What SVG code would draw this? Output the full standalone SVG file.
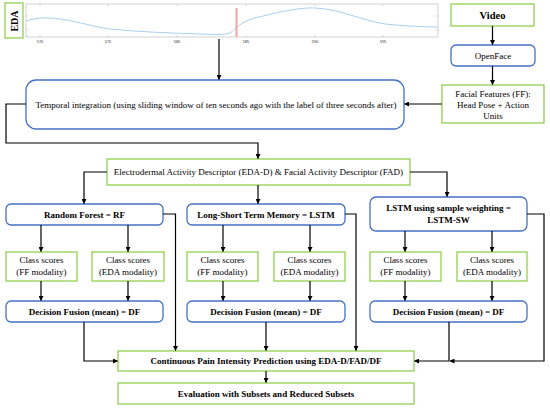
<svg xmlns="http://www.w3.org/2000/svg" width="550" height="409" viewBox="0 0 550 409">
<defs>
<style>
.g{fill:#fff;stroke:#92D050;stroke-width:1.3}
.b{fill:#fff;stroke:#4472C4;stroke-width:1.3}
.t{font-family:"Liberation Serif","Times New Roman",serif;font-size:9px;fill:#000;text-anchor:middle}
.tb{font-family:"Liberation Serif","Times New Roman",serif;font-size:9px;font-weight:bold;fill:#000;text-anchor:middle}
.c{fill:none;stroke:#000;stroke-width:1.2}
.ax{fill:none;stroke:#c8c8c8;stroke-width:0.8}
.tk{font-family:"Liberation Sans",Arial,sans-serif;font-size:4px;fill:#333;text-anchor:middle}
</style>
<marker id="ah" viewBox="0 0 10 10" refX="9" refY="5" markerWidth="5" markerHeight="5" orient="auto" markerUnits="userSpaceOnUse">
<path d="M0,0 L10,5 L0,10 z" fill="#000"/>
</marker>
</defs>
<rect width="550" height="409" fill="#fff"/>

<g id="eda-plot">
<rect x="5" y="3" width="18" height="35" fill="#fff" stroke="#92D050" stroke-width="1.3"/>
<text class="tb" font-size="10" transform="translate(18,21) rotate(-90)" style="font-size:10px">EDA</text>
<rect class="ax" x="26" y="4" width="412" height="33"/>
<path class="ax" d="M40,4v2M108,4v2M177,4v2M246,4v2M315,4v2M383,4v2M40,37v-2M108,37v-2M177,37v-2M246,37v-2M315,37v-2M383,37v-2M26,16h2M26,30h2M26,36h2M438,16h-2M438,30h-2"/>
<text class="tk" x="40" y="43">570</text>
<text class="tk" x="108" y="43">575</text>
<text class="tk" x="177" y="43">580</text>
<text class="tk" x="246" y="43">585</text>
<text class="tk" x="315" y="43">590</text>
<text class="tk" x="383" y="43">595</text>
<path d="M26,21 C35,18 45,17 60,19 C80,22 95,27 110,29 C140,32 170,33 200,34 C215,34.5 225,35 230,33 C236,29 240,22 255,18 C275,13 300,7 315,8 C340,9 360,20 385,24 C405,26 425,27 438,27" fill="none" stroke="#A8D0F0" stroke-width="1"/>
<line x1="236.5" y1="8" x2="236.5" y2="37" stroke="#F4A0A0" stroke-width="2"/>
</g>

<g id="video">
<rect class="g" x="451" y="4" width="83" height="22"/>
<text class="tb" x="492.5" y="19" style="font-size:10.5px">Video</text>
</g>
<g id="openface">
<rect class="b" x="451" y="45" width="84" height="21" rx="5"/>
<text class="t" x="493" y="58.5">OpenFace</text>
</g>
<g id="facial-features">
<rect class="g" x="442" y="85" width="102" height="38"/>
<text class="t" x="493" y="97">Facial Features (FF):</text>
<text class="t" x="493" y="108">Head Pose + Action</text>
<text class="t" x="493" y="119">Units</text>
</g>
<g id="temporal">
<rect class="b" x="26" y="80" width="378" height="49" rx="10"/>
<text class="t" x="216" y="108">Temporal integration (using sliding window of ten seconds ago with the label of three seconds after)</text>
</g>
<g id="descriptor">
<rect class="g" x="107" y="159" width="303" height="26"/>
<text class="t" x="258.5" y="175">Electrodermal Activity Descriptor (EDA-D) &amp; Facial Activity Descriptor (FAD)</text>
</g>
<g id="rf">
<rect class="b" x="6" y="204" width="157" height="21" rx="5"/>
<text class="tb" x="84.5" y="217.5">Random Forest = RF</text>
</g>
<g id="lstm">
<rect class="b" x="187" y="204" width="158" height="21" rx="5"/>
<text class="tb" x="266" y="217.5">Long-Short Term Memory = LSTM</text>
</g>
<g id="lstm-sw">
<rect class="b" x="370" y="197" width="157" height="34" rx="6"/>
<text class="tb" x="448.5" y="210.5">LSTM using sample weighting =</text>
<text class="tb" x="448.5" y="222.5">LSTM-SW</text>
</g>

<g id="rf-ff">
<rect class="g" x="6" y="252" width="71" height="29"/>
<text class="t" x="41.5" y="263">Class scores</text>
<text class="t" x="41.5" y="275">(FF modality)</text>
</g>
<g id="rf-eda">
<rect class="g" x="92" y="252" width="72" height="29"/>
<text class="t" x="128" y="263">Class scores</text>
<text class="t" x="128" y="275">(EDA modality)</text>
</g>
<g id="lstm-ff">
<rect class="g" x="187" y="252" width="71" height="29"/>
<text class="t" x="222.5" y="263">Class scores</text>
<text class="t" x="222.5" y="275">(FF modality)</text>
</g>
<g id="lstm-eda">
<rect class="g" x="274" y="252" width="71" height="29"/>
<text class="t" x="309.5" y="263">Class scores</text>
<text class="t" x="309.5" y="275">(EDA modality)</text>
</g>
<g id="lstmsw-ff">
<rect class="g" x="370" y="252" width="71" height="29"/>
<text class="t" x="405.5" y="263">Class scores</text>
<text class="t" x="405.5" y="275">(FF modality)</text>
</g>
<g id="lstmsw-eda">
<rect class="g" x="457" y="252" width="70" height="29"/>
<text class="t" x="492" y="263">Class scores</text>
<text class="t" x="492" y="275">(EDA modality)</text>
</g>

<g id="rf-df">
<rect class="b" x="6" y="301" width="157" height="21" rx="5"/>
<text class="tb" x="84.5" y="314.5">Decision Fusion (mean) = DF</text>
</g>
<g id="lstm-df">
<rect class="b" x="187" y="301" width="158" height="21" rx="5"/>
<text class="tb" x="266" y="314.5">Decision Fusion (mean) = DF</text>
</g>
<g id="lstmsw-df">
<rect class="b" x="370" y="301" width="157" height="21" rx="5"/>
<text class="tb" x="448.5" y="314.5">Decision Fusion (mean) = DF</text>
</g>

<g id="prediction">
<rect class="g" x="118" y="351" width="296" height="20"/>
<text class="tb" x="266" y="364">Continuous Pain Intensity Prediction using EDA-D/FAD/DF</text>
</g>
<g id="evaluation">
<rect class="g" x="118" y="383" width="296" height="21"/>
<text class="tb" x="266" y="396.5">Evaluation with Subsets and Reduced Subsets</text>
</g>

<g id="connectors">
<path class="c" marker-end="url(#ah)" d="M219,39 V79.5"/>
<path class="c" marker-end="url(#ah)" d="M492.5,26 V44.5"/>
<path class="c" marker-end="url(#ah)" d="M492.5,66 V84.5"/>
<path class="c" marker-end="url(#ah)" d="M442,104 H404.5"/>
<path class="c" marker-end="url(#ah)" d="M26,104 H6 V143 H258 V158.5"/>
<path class="c" marker-end="url(#ah)" d="M107,172 H84 V203.5"/>
<path class="c" marker-end="url(#ah)" d="M258,185 V203.5"/>
<path class="c" marker-end="url(#ah)" d="M410,172 H447 V196.5"/>
<path class="c" marker-end="url(#ah)" d="M41,225 V251.5"/>
<path class="c" marker-end="url(#ah)" d="M128,225 V251.5"/>
<path class="c" marker-end="url(#ah)" d="M223,225 V251.5"/>
<path class="c" marker-end="url(#ah)" d="M310,225 V251.5"/>
<path class="c" marker-end="url(#ah)" d="M405,231 V251.5"/>
<path class="c" marker-end="url(#ah)" d="M492,231 V251.5"/>
<path class="c" marker-end="url(#ah)" d="M41,281 V300.5"/>
<path class="c" marker-end="url(#ah)" d="M128,281 V300.5"/>
<path class="c" marker-end="url(#ah)" d="M223,281 V300.5"/>
<path class="c" marker-end="url(#ah)" d="M310,281 V300.5"/>
<path class="c" marker-end="url(#ah)" d="M405,281 V300.5"/>
<path class="c" marker-end="url(#ah)" d="M492,281 V300.5"/>
<path class="c" marker-end="url(#ah)" d="M163,214 H175.5 V350.5"/>
<path class="c" marker-end="url(#ah)" d="M345,214 H356 V350.5"/>
<path class="c" marker-end="url(#ah)" d="M527,214 H544 V361 H450"/>
<path class="c" marker-end="url(#ah)" d="M84,322 V361 H117.5"/>
<path class="c" marker-end="url(#ah)" d="M266,322 V350.5"/>
<path class="c" marker-end="url(#ah)" d="M449,322 V361 H414.5"/>
<path class="c" marker-end="url(#ah)" d="M266,371 V382.5"/>
</g>
</svg>
